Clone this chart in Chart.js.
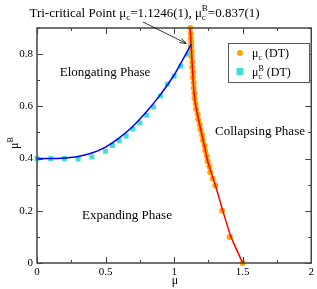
<!DOCTYPE html>
<html>
<head>
<meta charset="utf-8">
<script src="https://cdn.jsdelivr.net/npm/chart.js@4.4.1/dist/chart.umd.min.js"></script>
<style>
  html, body { margin: 0; padding: 0; background: #fff; }
  #wrap { width: 317px; height: 289px; }
</style>
</head>
<body>
<div id="wrap"><canvas id="chart"></canvas></div>
<script>
// mu^B(DT) squares
const sqMu = [0, 0.1, 0.2, 0.3, 0.4, 0.5, 0.55, 0.6, 0.65, 0.7, 0.75, 0.8, 0.85, 0.9, 0.95, 1.0, 1.05, 1.1, 1.12]
const sqMuB = [0.4, 0.4, 0.4, 0.398, 0.406, 0.428, 0.45, 0.468, 0.486, 0.513, 0.536, 0.566, 0.597, 0.64, 0.685, 0.716, 0.754, 0.8, 0.83]

// mu_c(DT) circles
const dotMu = [1.118, 1.121, 1.121, 1.125, 1.124, 1.129, 1.127, 1.133, 1.132, 1.138, 1.137, 1.143, 1.142, 1.148, 1.149, 1.157, 1.16, 1.172, 1.175, 1.187, 1.192, 1.204, 1.21, 1.222, 1.226, 1.238, 1.244, 1.257, 1.263, 1.282, 1.3, 1.35, 1.405, 1.5]
const dotMuB = [0.9, 0.88, 0.86, 0.845, 0.83, 0.81, 0.79, 0.77, 0.75, 0.73, 0.71, 0.69, 0.67, 0.65, 0.63, 0.61, 0.59, 0.57, 0.55, 0.53, 0.51, 0.49, 0.47, 0.45, 0.43, 0.41, 0.39, 0.37, 0.348, 0.323, 0.297, 0.2, 0.1, 0]

// fitted boundaries
const blueMu = [0, 0.1, 0.2, 0.3, 0.4, 0.5, 0.6, 0.7, 0.8, 0.9, 1.0, 1.05, 1.1246]
const blueMuB = [0.4, 0.4, 0.402, 0.408, 0.421, 0.444, 0.479, 0.524, 0.58, 0.645, 0.72, 0.766, 0.837]
const redMu = [1.117, 1.124, 1.132, 1.14, 1.15, 1.166, 1.196, 1.22, 1.244, 1.268, 1.3, 1.355, 1.415, 1.5]
const redMuB = [0.9, 0.837, 0.76, 0.69, 0.63, 0.58, 0.507, 0.45, 0.392, 0.35, 0.3, 0.2, 0.1, 0]

const xTicks = [0, 0.5, 1, 1.5, 2]
const yTicks = [0, 0.2, 0.4, 0.6, 0.8]
const triPoint = [1.1246, 0.837]

const SERIF = '"Liberation Serif", "DejaVu Serif", serif'
const toPts = (xs, ys) => xs.map((x, i) => ({ x: x, y: ys[i] }))

// text with sub/superscripts, parts: [text, kind, lowerText]
function richWidth(ctx, parts, size) {
  let w = 0
  parts.forEach(([t, kind, t2]) => {
    if (kind === 'n') {
      ctx.font = size + 'px ' + SERIF
      w += ctx.measureText(t).width
    } else {
      ctx.font = Math.round(size * 0.7) + 'px ' + SERIF
      w += Math.max(ctx.measureText(t).width, t2 ? ctx.measureText(t2).width : 0)
    }
  })
  return w
}

function drawRich(ctx, parts, x, y, size) {
  ctx.textBaseline = 'alphabetic'
  ctx.textAlign = 'left'
  parts.forEach(([t, kind, t2]) => {
    if (kind === 'n') {
      ctx.font = size + 'px ' + SERIF
      ctx.fillText(t, x, y)
      x += ctx.measureText(t).width
    } else {
      ctx.font = Math.round(size * 0.7) + 'px ' + SERIF
      let w = 0
      if (kind === 'sub') {
        ctx.fillText(t, x, y + size * 0.25)
        w = ctx.measureText(t).width
      } else if (kind === 'sup') {
        ctx.fillText(t, x, y - size * 0.45)
        w = ctx.measureText(t).width
      } else {
        ctx.fillText(t, x, y - size * 0.45)
        ctx.fillText(t2, x, y + size * 0.25)
        w = Math.max(ctx.measureText(t).width, ctx.measureText(t2).width)
      }
      x += w
    }
  })
}

const decor = {
  id: 'decor',
  afterDraw(chart) {
    const ctx = chart.ctx
    const xs = chart.scales.x
    const ys = chart.scales.y
    const a = chart.chartArea
    ctx.save()

    // frame
    ctx.strokeStyle = '#444'
    ctx.lineWidth = 1.5
    ctx.strokeRect(a.left, a.top, a.right - a.left, a.bottom - a.top)

    // inward ticks on all sides
    ctx.lineWidth = 1
    ctx.beginPath()
    for (let v = 0; v <= 2.0001; v += 0.25) {
      const px = Math.round(xs.getPixelForValue(v)) + 0.5
      const len = Math.abs(v / 0.5 - Math.round(v / 0.5)) < 1e-6 ? 6 : 3
      ctx.moveTo(px, a.bottom); ctx.lineTo(px, a.bottom - len)
      ctx.moveTo(px, a.top); ctx.lineTo(px, a.top + len)
    }
    for (let v = 0; v <= 0.9001; v += 0.1) {
      const py = Math.round(ys.getPixelForValue(v)) + 0.5
      const len = Math.abs(v / 0.2 - Math.round(v / 0.2)) < 1e-6 ? 6 : 3
      ctx.moveTo(a.left, py); ctx.lineTo(a.left + len, py)
      ctx.moveTo(a.right, py); ctx.lineTo(a.right - len, py)
    }
    ctx.stroke()

    ctx.fillStyle = '#000'

    // title
    const title = [['Tri-critical Point \u03bc', 'n'], ['c', 'sub'], ['=1.1246(1), \u03bc', 'n'], ['B', 'both', 'c'], ['=0.837(1)', 'n']]
    const tw = richWidth(ctx, title, 13)
    drawRich(ctx, title, 144.5 - tw / 2, 17, 13)

    // arrow to tri-critical point
    const tx = xs.getPixelForValue(triPoint[0]) - 5
    const ty = ys.getPixelForValue(triPoint[1]) - 1
    const sx = 143, sy = 22
    ctx.strokeStyle = '#000'
    ctx.lineWidth = 0.8
    ctx.beginPath(); ctx.moveTo(sx, sy); ctx.lineTo(tx, ty); ctx.stroke()
    const ang = Math.atan2(ty - sy, tx - sx)
    ctx.beginPath()
    ctx.moveTo(tx - 7 * Math.cos(ang - 0.35), ty - 7 * Math.sin(ang - 0.35))
    ctx.lineTo(tx, ty)
    ctx.lineTo(tx - 7 * Math.cos(ang + 0.35), ty - 7 * Math.sin(ang + 0.35))
    ctx.stroke()

    // phase labels
    ctx.font = '13px ' + SERIF
    ctx.textBaseline = 'middle'
    ctx.textAlign = 'center'
    ctx.fillText('Elongating Phase', 105, 73)
    ctx.fillText('Collapsing Phase', 260, 132)
    ctx.textAlign = 'left'
    ctx.fillText('Expanding Phase', 82, 216)

    // axis titles
    ctx.textAlign = 'center'
    ctx.font = '12px ' + SERIF
    ctx.fillText('\u03bc', 175, 281)
    ctx.save()
    ctx.translate(14, 143)
    ctx.rotate(-Math.PI / 2)
    drawRich(ctx, [['\u03bc', 'n'], ['B', 'sup']], -6, 4, 12)
    ctx.restore()

    // legend
    ctx.fillStyle = '#fff'
    ctx.fillRect(228, 43, 81, 39)
    ctx.strokeStyle = '#555'
    ctx.lineWidth = 1
    ctx.strokeRect(228.5, 43.5, 81, 39)
    const ds = chart.data.datasets
    ctx.fillStyle = ds[2].backgroundColor
    ctx.beginPath(); ctx.arc(240, 53, 3, 0, Math.PI * 2); ctx.fill()
    ctx.fillStyle = ds[3].backgroundColor
    ctx.fillRect(236.5, 68, 7, 7)
    ctx.fillStyle = '#000'
    drawRich(ctx, [['\u03bc', 'n'], ['c', 'sub'], [' (DT)', 'n']], 252, 57, 12)
    drawRich(ctx, [['\u03bc', 'n'], ['B', 'both', 'c'], [' (DT)', 'n']], 252, 76, 12)

    ctx.restore()
  }
}

const tickFont = { family: SERIF, size: 11 }

new Chart(document.getElementById('chart'), {
  type: 'scatter',
  data: {
    datasets: [
      {
        type: 'line',
        label: 'fit blue',
        data: toPts(blueMu, blueMuB),
        borderColor: '#0000ff',
        borderWidth: 1.5,
        pointRadius: 0,
        cubicInterpolationMode: 'monotone',
        fill: false,
        order: 0
      },
      {
        type: 'line',
        label: 'fit red',
        data: toPts(redMu, redMuB),
        borderColor: '#ff0000',
        borderWidth: 1.5,
        pointRadius: 0,
        tension: 0.2,
        fill: false,
        order: 0
      },
      {
        label: 'mu_c (DT)',
        data: toPts(dotMu, dotMuB),
        backgroundColor: '#ffa500',
        borderWidth: 0,
        pointRadius: 3,
        clip: false,
        order: 1
      },
      {
        label: 'mu^B_c (DT)',
        data: toPts(sqMu, sqMuB),
        backgroundColor: '#40e0d0',
        borderWidth: 0,
        pointStyle: 'rect',
        pointRadius: 3.5,
        clip: false,
        order: 1
      }
    ]
  },
  options: {
    responsive: true,
    maintainAspectRatio: false,
    animation: false,
    layout: { padding: { top: 28, right: 5, left: 0, bottom: 0 } },
    plugins: {
      legend: { display: false },
      tooltip: { enabled: false }
    },
    scales: {
      x: {
        type: 'linear',
        min: 0,
        max: 2,
        grid: { display: false, drawTicks: false },
        border: { display: false },
        afterBuildTicks: (scale) => { scale.ticks = xTicks.map((v) => ({ value: v })) },
        afterFit: (scale) => { scale.height = 26 },
        ticks: { color: '#000', font: tickFont, padding: 3, maxRotation: 0, callback: (v) => String(v) }
      },
      y: {
        type: 'linear',
        min: 0,
        max: 0.9,
        grid: { display: false, drawTicks: false },
        border: { display: false },
        afterBuildTicks: (scale) => { scale.ticks = yTicks.map((v) => ({ value: v })) },
        afterFit: (scale) => { scale.width = 37 },
        ticks: { color: '#000', font: tickFont, padding: 4, callback: (v) => String(v) }
      }
    }
  },
  plugins: [decor]
})
</script>
</body>
</html>
